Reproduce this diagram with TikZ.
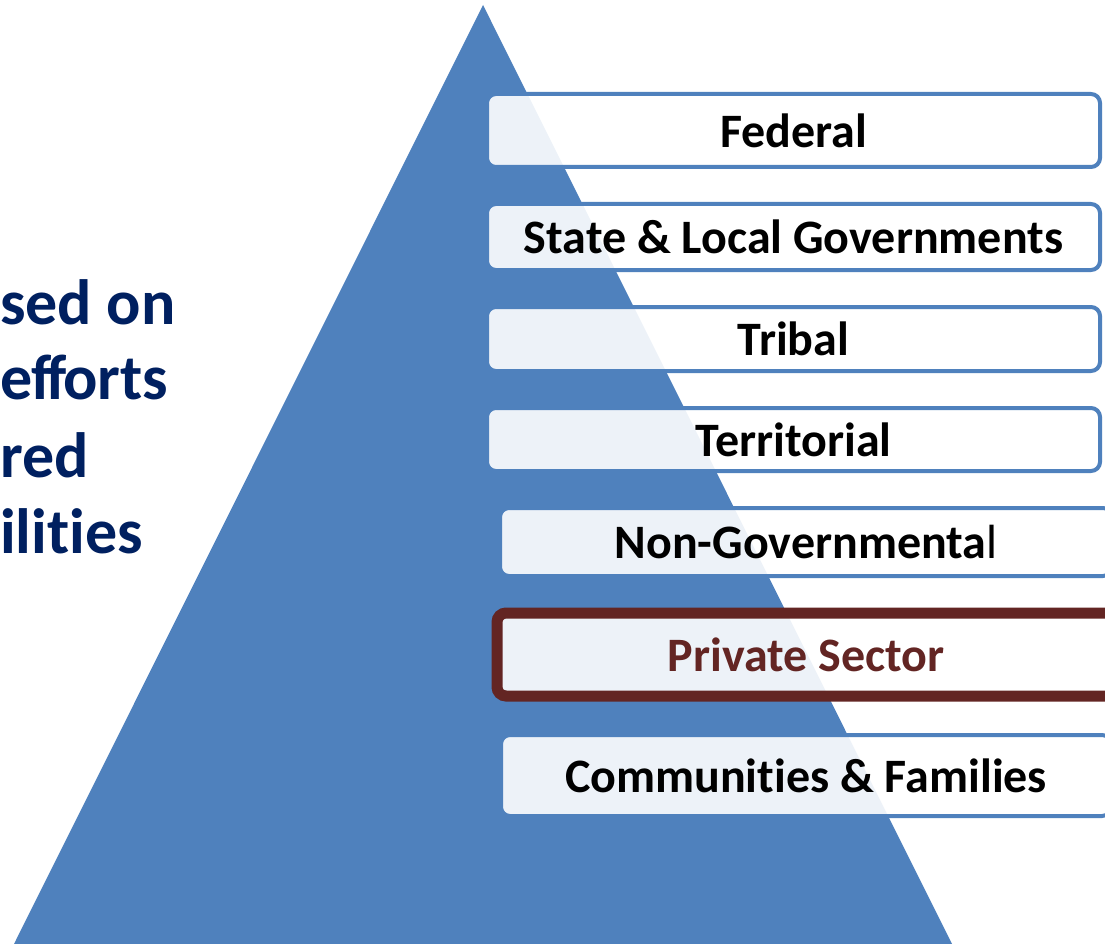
\documentclass[tikz,border=0pt]{standalone}
\usepackage{fontspec}
\setmainfont{Carlito}[Ligatures={NoCommon,NoRare,NoContextual}]
\definecolor{triblue}{HTML}{4F81BD}
\definecolor{navytext}{HTML}{002060}
\definecolor{brownred}{HTML}{632523}
\tikzset{
  levelbox/.style={draw=triblue, line width=4pt, rounded corners=9pt, fill=white,
    fill opacity=0.9, draw opacity=1, text opacity=1, inner sep=0pt,
    font=\fontsize{48}{56}\selectfont\bfseries, text=black},
  hotbox/.style={levelbox, draw=brownred, line width=11pt, text=brownred},
  sidetext/.style={anchor=base west, inner sep=0pt, text=navytext,
    font=\fontsize{64}{76}\selectfont\bfseries}
}
\begin{document}
\begin{tikzpicture}[x=1pt,y=-1pt]
\useasboundingbox (0,0) rectangle (1105,944);
\clip (0,0) rectangle (1105,944);
\fill[white] (0,0) rectangle (1105,944);
\fill[triblue] (483,5) -- (955,950) -- (11,950) -- cycle;
\node[levelbox, minimum width=613pt, minimum height=73pt] (fed) at (793.5,130.5) {Federal};
\node[levelbox, minimum width=613pt, minimum height=66pt] (state) at (793.5,237) {State \& Local Governments};
\node[levelbox, minimum width=613pt, minimum height=64pt] (tribal) at (793.5,339) {Tribal};
\node[levelbox, minimum width=613pt, minimum height=63pt] (terr) at (793.5,439.5) {Territorial};
\node[levelbox, minimum width=612pt, minimum height=68pt] (ngo) at (806,542) {Non-Governmenta{\mdseries l}};
\node[hotbox, minimum width=618pt, minimum height=83pt] (priv) at (806,654.5) {Private Sector};
\node[levelbox, minimum width=610pt, minimum height=81pt] (comm) at (806,775.5) {Communities \& Families};
\node[sidetext] (l1) at (0,324) {sed on};
\node[sidetext] (l2) at (0,399) {ef\kern-6pt f\kern-3pt orts};
\node[sidetext] (l3) at (0,477) {red};
\node[sidetext] (l4) at (0,553) {ilities};
\end{tikzpicture}
\end{document}
